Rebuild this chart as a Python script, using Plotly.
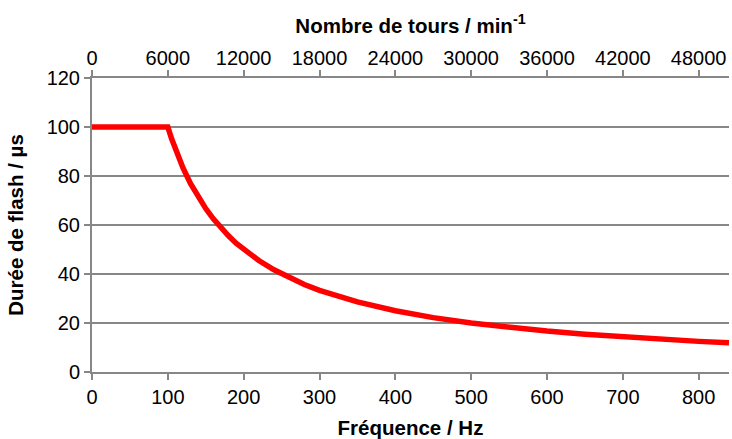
import plotly.graph_objects as go

freq_hz = [0, 100, 105, 110, 115, 120, 130, 140, 150, 160, 170, 180, 190, 200,
           220, 240, 260, 280, 300, 350, 400, 450, 500, 550, 600, 650, 700,
           750, 800, 840]
flash_us = [100, 100, 95.2, 90.9, 87.0, 83.3, 76.9, 71.4, 66.7, 62.5, 58.8, 55.6,
            52.6, 50, 45.5, 41.7, 38.5, 35.7, 33.3, 28.6, 25, 22.2, 20, 18.2,
            16.7, 15.4, 14.3, 13.3, 12.5, 11.9]
rpm_ticks = [0, 6000, 12000, 18000, 24000, 30000, 36000, 42000, 48000]
rpm_labels = ["0", "6000", "12000", "18000", "24000", "30000", "36000", "42000", "48000"]
hz_ticks = [0, 100, 200, 300, 400, 500, 600, 700, 800]
y_ticks = [0, 20, 40, 60, 80, 100, 120]

FONT = "Liberation Sans, Arial, sans-serif"
GRAY = "#878787"

fig = go.Figure()
fig.add_trace(go.Scatter(x=freq_hz, y=flash_us, mode="lines",
                         line=dict(color="#ff0000", width=5.5),
                         showlegend=False, hoverinfo="skip"))
# invisible trace to attach the top (rpm) axis
fig.add_trace(go.Scatter(x=rpm_ticks, y=[None] * len(rpm_ticks), xaxis="x2",
                         mode="lines", showlegend=False, hoverinfo="skip"))

axis_common = dict(showgrid=False, zeroline=False, showline=True, linecolor=GRAY,
                   linewidth=2, ticks="outside", ticklen=6, tickcolor=GRAY,
                   tickwidth=1.5, automargin=False)

fig.update_layout(
    width=732, height=439,
    margin=dict(l=92, r=3, t=78, b=67),
    paper_bgcolor="white", plot_bgcolor="white",
    font=dict(family=FONT, size=20, color="black"),
    xaxis=dict(range=[0, 840], tickvals=hz_ticks, **axis_common,
               title=dict(text="<b>Fréquence / Hz</b>", font=dict(size=20.5), standoff=16)),
    xaxis2=dict(range=[0, 50400], tickvals=rpm_ticks, ticktext=rpm_labels,
                overlaying="x", side="top", ticklabelstandoff=-3, **axis_common,
                title=dict(text="<b>Nombre de tours / min<sup>-1</sup></b>",
                           font=dict(size=20.5), standoff=8)),
    yaxis=dict(range=[0, 120], tickvals=y_ticks, **{**axis_common, "showgrid": True},
               gridcolor=GRAY, gridwidth=1.5,
               title=dict(text="<b>Durée de flash / µs</b>", font=dict(size=20.5), standoff=17)),
)
fig.write_html("out.html", config={"displayModeBar": False},
               post_script="document.body.style.margin='0';")
